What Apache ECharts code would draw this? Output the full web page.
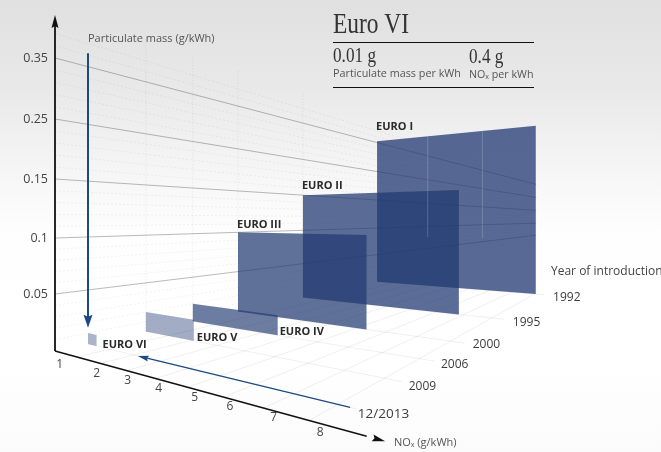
<!DOCTYPE html>
<html>
<head>
<meta charset="utf-8">
<style>html,body{margin:0;padding:0;background:#fff}#chart{width:661px;height:452px}</style>
<script src="https://cdn.jsdelivr.net/npm/echarts@6/dist/echarts.min.js"></script>
</head>
<body>
<div id="chart"></div>
<script>
// chart values
const euroNames = ['EURO I', 'EURO II', 'EURO III', 'EURO IV', 'EURO V', 'EURO VI'];
const euroNox = [8.05, 6.85, 5.35, 3.6, 2.1, 0.4];
const euroPm = [0.355, 0.15, 0.1, 0.02, 0.02, 0.01];
const yearLabels = ['1992', '1995', '2000', '2006', '2009', '12/2013'];
const noxTicks = [1, 2, 3, 4, 5, 6, 7, 8];
const pmTicks = [0.05, 0.1, 0.15, 0.25, 0.35];

// perspective scale of the picture (two vanishing points on one horizon)
const originX = 55, originY = 351, horizonY = 219;
const vpLeftX = -428, vpRightX = 668, noxPersp = 0.0431;
const yearDepth = [1.107, 0.679, 0.4256, 0.29, 0.174, 0.0569];
const wallEndDepth = 3.65;
const floorEndNox = 8.4;
const pmDomain = [0, 0.05, 0.1, 0.15, 0.25, 0.35, 0.435];
const pmRange = [0, 57, 113, 172, 232, 293, 345];

function pmHeight(pm) {
    for (let i = 1; i < pmDomain.length; i++) {
        if (pm <= pmDomain[i]) {
            return echarts.number.linearMap(pm, [pmDomain[i - 1], pmDomain[i]], [pmRange[i - 1], pmRange[i]]);
        }
    }
    return pmRange[pmRange.length - 1];
}

function project(nox, depth, pm) {
    const base = originY - horizonY;
    const ax = vpLeftX + (originX - vpLeftX) / (1 - noxPersp * nox);
    const ay = base * (ax - vpLeftX) / (originX - vpLeftX);
    const lx = vpRightX - (vpRightX - originX) / (1 + depth);
    const ly = base * (vpRightX - lx) / (vpRightX - originX);
    const a = (lx - vpLeftX) / ly;
    const b = (ax - vpRightX) / ay;
    const t = (vpRightX - vpLeftX) / (a - b);
    return [vpLeftX + a * t, horizonY + t - t * pmHeight(pm || 0) / base];
}

const sansFont = '"Open Sans", "Noto Sans", sans-serif';
const gridDark = 'rgba(60,60,60,0.65)';
const gridLight = 'rgba(0,0,0,0.08)';
const floorLine = 'rgba(0,0,0,0.09)';
const blue = '#1c4a80';

function line(p, q, stroke, width, dash) {
    return {
        type: 'line',
        shape: {x1: p[0], y1: p[1], x2: q[0], y2: q[1]},
        style: {stroke: stroke, lineWidth: width, lineDash: dash || null}
    };
}

function label(x, y, text, size, color, align, weight) {
    return {
        type: 'text', x: x, y: y,
        style: {
            text: text, fontSize: size, fontFamily: sansFont, fontWeight: weight || 'normal',
            fill: color, align: align || 'left', verticalAlign: 'middle'
        }
    };
}

function arrowHead(tip, from, len, half, color) {
    const dx = tip[0] - from[0], dy = tip[1] - from[1];
    const d = Math.sqrt(dx * dx + dy * dy), ux = dx / d, uy = dy / d;
    const bx = tip[0] - ux * len, by = tip[1] - uy * len;
    return {
        type: 'polygon',
        shape: {points: [tip, [bx - uy * half, by + ux * half], [tip[0] - ux * len * 0.85, tip[1] - uy * len * 0.85], [bx + uy * half, by - ux * half]]},
        style: {fill: color}
    };
}

// wall lines: major ticks plus the fine steps between them
let wallLevels = [];
let prevPm = 0;
pmTicks.forEach((pm) => {
    for (let k = 1; k < 5; k++) wallLevels.push([prevPm + (pm - prevPm) * k / 5, 0]);
    wallLevels.push([pm, 1]);
    prevPm = pm;
});
wallLevels.push([0.37, 0], [0.39, 0]);

function renderFloor(params, api) {
    const kind = api.value(0), v = api.value(1);
    if (kind === 0) {
        return line(project(0, v, 0), project(floorEndNox, v, 0), floorLine, 0.7);
    }
    return line(project(v, 0, 0), project(v, yearDepth[0], 0), floorLine, 0.7);
}

function renderWall(params, api) {
    const pm = api.value(0), major = api.value(1);
    return line(project(0, 0, pm), project(0, wallEndDepth, pm),
        major ? gridDark : gridLight, major ? 0.55 : 0.7, major ? null : [2, 2]);
}

function renderWallVertical(params, api) {
    const d = api.value(0);
    return line(project(0, d, 0), project(0, d, 0.435), 'rgba(0,0,0,0.11)', 0.8, [1, 2]);
}

const panelFill = ['rgba(34,58,114,0.76)', 'rgba(34,58,114,0.74)', 'rgba(34,58,114,0.72)',
    'rgba(34,58,114,0.66)', 'rgba(34,58,114,0.42)', 'rgba(34,58,114,0.38)'];

function renderPanel(params, api) {
    const nox = api.value(0), depth = api.value(1), pm = api.value(2);
    const idx = params.dataIndex;
    return {
        type: 'polygon',
        shape: {points: [project(0, depth, pm), project(nox, depth, pm), project(nox, depth, 0), project(0, depth, 0)]},
        style: {fill: panelFill[idx]}
    };
}

// label nudges from the anchor corner of each panel
const euroLabelOffset = [[-1, -14], [-1, -9], [-1, -7], [2, -3], [3, -3], [6, -1]];

function renderEuroLabel(params, api) {
    const nox = api.value(0), depth = api.value(1), pm = api.value(2);
    const idx = params.dataIndex;
    const p = idx < 3 ? project(0, depth, pm) : project(nox, depth, 0);
    const off = euroLabelOffset[idx];
    return label(p[0] + off[0], p[1] + off[1], euroNames[idx], 11, '#2a2a2a', 'left', 'bold');
}

const noxLabelOffset = [[-17, 8], [-4, 10], [1, 10], [3, 10], [7, 10], [6.5, 10], [10, 10], [11, 12]];

function renderNoxLabel(params, api) {
    const p = project(api.value(0), 0, 0);
    const off = noxLabelOffset[params.dataIndex];
    return label(p[0] + off[0], p[1] + off[1], String(api.value(0)), 12, '#444', 'center');
}

const yearLabelOffset = [[9, 3], [9, 3], [8, 1], [6, 3], [7, 5], [1, 5]];

function renderYearLabel(params, api) {
    const p = project(floorEndNox, api.value(0), 0);
    const idx = params.dataIndex;
    const off = yearLabelOffset[idx];
    return label(p[0] + off[0], p[1] + off[1], yearLabels[idx], idx === 5 ? 13.5 : 12, '#3c3c3c', 'left');
}

function renderPmLabel(params, api) {
    const pm = api.value(0);
    const p = project(0, 0, pm);
    return label(p[0] - 7, p[1], String(pm), 12.5, '#444', 'right');
}

function renderAxes() {
    const yTop = [originX, 15];
    const xEnd = project(9.42, 0, 0);
    const o = [originX, originY];
    return {
        type: 'group',
        children: [
            line(o, [originX, 25], '#111', 1.8),
            arrowHead(yTop, o, 13, 3.5, '#111'),
            line(o, project(9.1, 0, 0), '#111', 1.5),
            arrowHead(xEnd, o, 13, 3.5, '#111')
        ]
    };
}

function renderArrows() {
    const d2013 = yearDepth[5];
    const vTop = project(0, d2013, 0.373);
    const vTip = project(0, d2013, 0.015);
    const hFrom = project(8.26, d2013, 0);
    const hTip = project(2.16, d2013, 0);
    return {
        type: 'group',
        children: [
            line(vTop, [vTip[0], vTip[1] - 8], blue, 2),
            arrowHead(vTip, vTop, 13, 4.5, blue),
            line(hFrom, [hTip[0] + 6, hTip[1] + 1.5], blue, 1.2),
            arrowHead(hTip, hFrom, 11, 3, blue)
        ]
    };
}

// pale uprights seen inside the EURO I panel
function renderPanelRib(params, api) {
    const n = api.value(0);
    return line(project(n, yearDepth[0], euroPm[0]), project(n, yearDepth[0], 0.085), 'rgba(255,255,255,0.16)', 1.2);
}

function customSeries(data, renderItem, z) {
    return {
        type: 'custom', coordinateSystem: 'none', silent: true, clip: false, z: z,
        data: data, renderItem: renderItem
    };
}

const floorData = yearDepth.map((d) => [0, d]).concat(noxTicks.map((n) => [1, n]));
const euroData = euroNames.map((name, i) => [euroNox[i], yearDepth[i], euroPm[i]]);
const wallVerticals = [yearDepth[4], yearDepth[3], yearDepth[2], yearDepth[1]];

const option = {
    animation: false,
    backgroundColor: new echarts.graphic.LinearGradient(0, 0, 0, 1, [
        {offset: 0, color: '#e0e0e0'},
        {offset: 0.2, color: '#e9e9e9'},
        {offset: 0.4, color: '#f7f7f7'},
        {offset: 0.52, color: '#fefefe'},
        {offset: 0.8, color: '#ffffff'},
        {offset: 1, color: '#fbfbfb'}
    ]),
    xAxis: {show: false},
    yAxis: {show: false},
    graphic: [
        {type: 'text', x: 333, y: 40, scaleX: 0.78, style: {text: 'Euro VI', fontFamily: '"Liberation Serif", serif', fontSize: 30, fill: '#333', verticalAlign: 'bottom'}},
        {type: 'line', shape: {x1: 333, y1: 42.5, x2: 534, y2: 42.5}, style: {stroke: '#111', lineWidth: 1}},
        {type: 'text', x: 333, y: 67, scaleX: 0.86, style: {text: '0.01 g', fontFamily: '"Liberation Serif", serif', fontSize: 20, fill: '#333', verticalAlign: 'bottom'}},
        {type: 'text', x: 469, y: 68, scaleX: 0.86, style: {text: '0.4 g', fontFamily: '"Liberation Serif", serif', fontSize: 20, fill: '#333', verticalAlign: 'bottom'}},
        {type: 'text', x: 333, y: 74, style: {text: 'Particulate mass per kWh', fontFamily: sansFont, fontSize: 10.8, fill: '#555', verticalAlign: 'middle'}},
        {type: 'text', x: 469, y: 75, style: {text: '{a|NO}{b|x}{a| per kWh}', verticalAlign: 'middle', rich: {a: {fontFamily: sansFont, fontSize: 10.7, fill: '#555'}, b: {fontFamily: sansFont, fontSize: 7, fill: '#555', verticalAlign: 'bottom'}}}},
        {type: 'line', shape: {x1: 333, y1: 87.5, x2: 534, y2: 87.5}, style: {stroke: '#111', lineWidth: 1}},
        {type: 'text', x: 88, y: 39, style: {text: 'Particulate mass (g/kWh)', fontFamily: sansFont, fontSize: 11, fill: '#555', verticalAlign: 'middle'}},
        {type: 'text', x: 551, y: 272, style: {text: 'Year of introduction', fontFamily: sansFont, fontSize: 12, fill: '#444', verticalAlign: 'middle'}},
        {type: 'text', x: 394, y: 443, style: {text: '{a|NO}{b|x}{a| (g/kWh)}', verticalAlign: 'middle', rich: {a: {fontFamily: sansFont, fontSize: 11, fill: '#555'}, b: {fontFamily: sansFont, fontSize: 7, fill: '#555', verticalAlign: 'bottom'}}}}
    ],
    series: [
        customSeries(floorData, renderFloor, 1),
        customSeries(wallLevels, renderWall, 2),
        customSeries(wallVerticals.map((d) => [d]), renderWallVertical, 2),
        customSeries([[0, 0]], renderAxes, 3),
        customSeries(euroData, renderPanel, 4),
        customSeries([[2.89], [5.66]], renderPanelRib, 5),
        customSeries([[0, 0]], renderArrows, 6),
        customSeries(euroData, renderEuroLabel, 7),
        customSeries(noxTicks.map((n) => [n]), renderNoxLabel, 7),
        customSeries(yearDepth.map((d) => [d]), renderYearLabel, 7),
        customSeries(pmTicks.map((p) => [p]), renderPmLabel, 7)
    ]
};

const chart = echarts.init(document.getElementById('chart'));
chart.setOption(option);
</script>
</body>
</html>
